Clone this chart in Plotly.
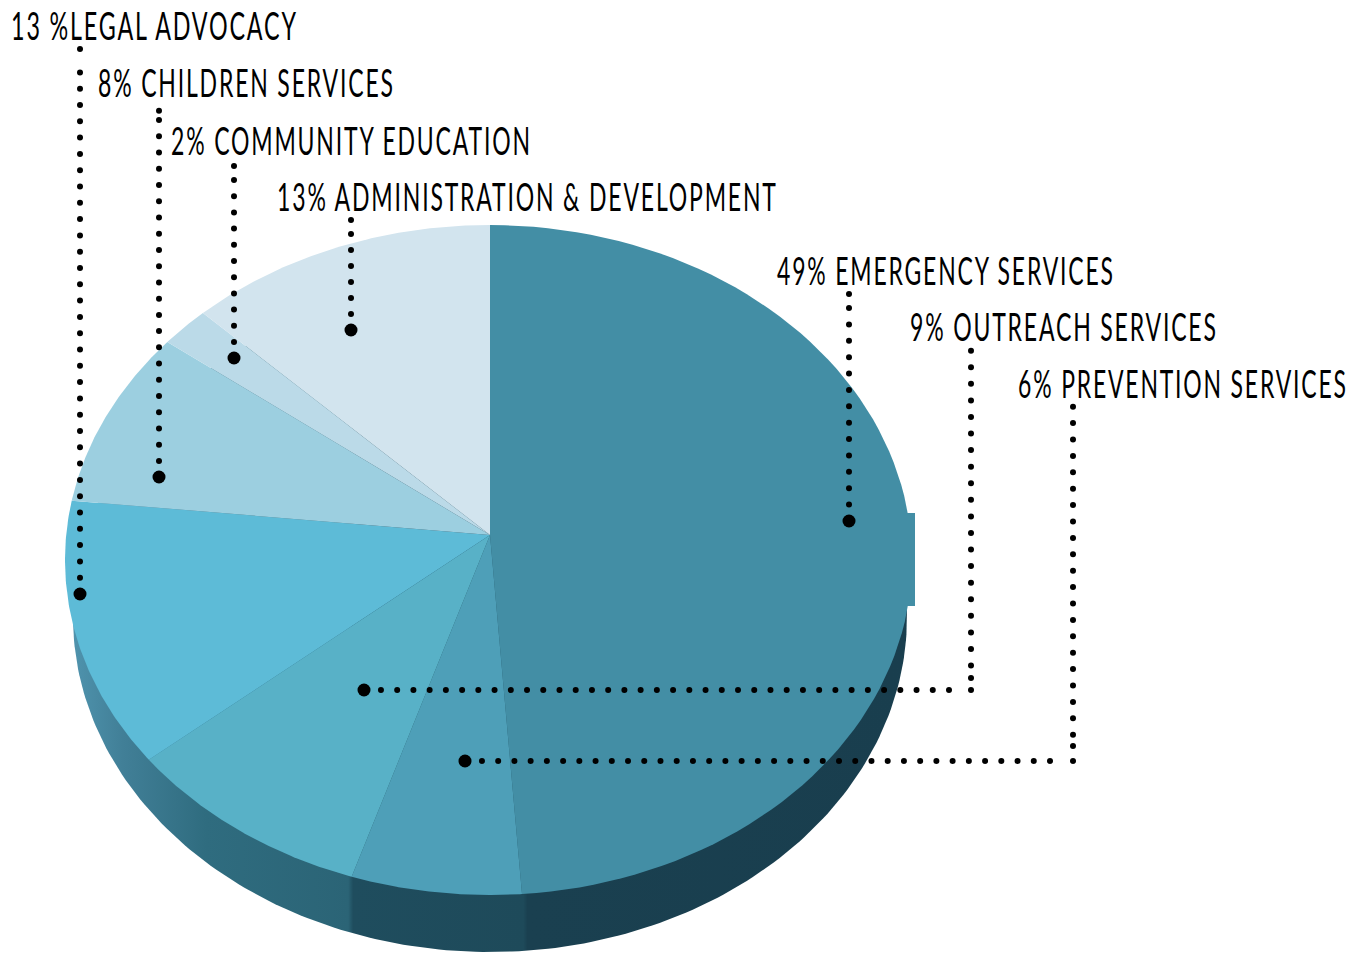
import json
import numpy as np
import plotly.graph_objects as go

# --- data ---
categories = ["EMERGENCY SERVICES", "PREVENTION SERVICES", "OUTREACH SERVICES", "LEGAL ADVOCACY",
              "CHILDREN SERVICES", "COMMUNITY EDUCATION", "ADMINISTRATION & DEVELOPMENT"]
shares = [49, 6, 9, 13, 8, 2, 13]
label_texts = ["49% EMERGENCY SERVICES", "6% PREVENTION SERVICES", "9% OUTREACH SERVICES",
               "13 %LEGAL ADVOCACY", "8% CHILDREN SERVICES", "2% COMMUNITY EDUCATION",
               "13% ADMINISTRATION & DEVELOPMENT"]
slice_colors = ["#438EA5", "#4E9FB8", "#58B1C7", "#5DBBD7", "#9CCFE0", "#BBDAE8", "#D2E4EE"]

# --- layout of the drawing (pixel-like axes) ---
W, H = 1364, 954
APEX = (490, 535)
TOP = dict(cx=490, cy=560, rl=425, rr=422, ry=335)
BOT = dict(cx=490, cy=617, rl=417, rr=417, ry=335)
FONT = "Lato"
FONT_SIZE = 38

label_left = [777, 1018, 910, 11, 98, 171, 277]
label_right = [1113, 1346, 1216, 296, 393, 530, 776]
label_y = [270, 383, 326, 25, 82, 140, 196]
boundary_lean = [0, -0.75, 1, 3, 3, 4.6, 4.3, 0]  # hand-drawn lean of slice edges, degrees

leaders = [
    dict(x=849, top=294, run=(308, 504.6), step=16.38, y=521),
    dict(x=1073, top=None, run=(406.7, 734.7), step=16.4, extra=746, y=761, hrun=(1050, 482), xe=465),
    dict(x=971, top=None, run=(350.7, 665.5), step=16.57, extra=678, y=690, hrun=(949, 381), xe=364),
    dict(x=80, top=49, run=(72.4, 577.8), step=16.3, y=594),
    dict(x=159, top=110.7, run=(120, 461), step=16.24, y=477),
    dict(x=234, top=166, run=(180, 342), step=16.2, y=358),
    dict(x=351, top=220, run=(234, 314), step=16.0, y=330),
]


def rim(t, e):
    """Point on the pie rim; t in radians clockwise from 12 o'clock."""
    s, c = np.sin(t), np.cos(t)
    rx = np.where(s >= 0, e["rr"], e["rl"])
    return e["cx"] + rx * s, e["cy"] - e["ry"] * c


fig = go.Figure()

# side wall
tt = np.linspace(0, 2 * np.pi, 361)
bx, by = rim(tt, BOT)
fig.add_trace(go.Scatter(
    x=bx, y=by, mode="lines", line=dict(width=0), fill="toself", hoverinfo="skip", showlegend=False,
    fillgradient=dict(type="horizontal", colorscale=[
        [0.00, "#4F93AD"], [0.06, "#417F97"], [0.16, "#2F6C7F"], [0.33, "#2B6476"],
        [0.336, "#1F4D5E"], [0.54, "#1E4A5A"], [0.545, "#1A4050"], [1.00, "#193E4E"]])))

# top slices
cum = np.concatenate([[0], np.cumsum(shares)]) / sum(shares)
for i, name in enumerate(categories):
    c = np.linspace(cum[i], cum[i + 1], 90)
    px, py = rim(2 * np.pi * c + np.radians(np.interp(c, cum, boundary_lean)), TOP)
    fig.add_trace(go.Scatter(
        x=np.concatenate([[APEX[0]], px, [APEX[0]]]),
        y=np.concatenate([[APEX[1]], py, [APEX[1]]]),
        mode="lines", line=dict(width=0), fill="toself", fillcolor=slice_colors[i],
        name=name, text=label_texts[i], hoverinfo="text", showlegend=False))

# flat bump on the right rim of the large slice
fig.add_trace(go.Scatter(x=[900, 915, 915, 900, 900], y=[513, 513, 606, 606, 513], mode="lines",
                         line=dict(width=0), fill="toself", fillcolor=slice_colors[0],
                         hoverinfo="skip", showlegend=False))

# leader dots
for L, name in zip(leaders, categories):
    ys = list(np.arange(L["run"][0], L["run"][1] + 0.5, L["step"]))
    if L["top"] is not None:
        ys = [L["top"]] + ys
    if "extra" in L:
        ys.append(L["extra"])
    xs = [L["x"]] * len(ys)
    if "xe" in L:
        hr = list(np.arange(L["hrun"][0], L["hrun"][1] - 0.5, -16.23))
        xs += [L["x"]] + hr
        ys += [L["y"]] * (1 + len(hr))
    fig.add_trace(go.Scatter(x=xs, y=ys, mode="markers", marker=dict(color="black", size=6),
                             hoverinfo="skip", showlegend=False))
    fig.add_trace(go.Scatter(x=[L.get("xe", L["x"])], y=[L["y"]], mode="markers",
                             marker=dict(color="black", size=13), hoverinfo="skip", showlegend=False))

for txt, x, y in zip(label_texts, label_left, label_y):
    fig.add_annotation(x=x, y=y, text=txt, showarrow=False, xanchor="left", yanchor="middle",
                       font=dict(family=FONT, size=FONT_SIZE, color="black"))

fig.update_layout(
    width=W, height=H, margin=dict(l=0, r=0, t=0, b=0),
    paper_bgcolor="white", plot_bgcolor="white", showlegend=False,
    xaxis=dict(range=[0, W], visible=False, fixedrange=True),
    yaxis=dict(range=[H, 0], visible=False, fixedrange=True),
)

# No condensed family is installed: squeeze the real text glyphs to the reference's widths.
squeeze = """
document.body.style.margin='0';document.documentElement.style.overflow='hidden';
(function(){
 var L=%s,R=%s,gd=document.getElementById('{plot_id}');
 function fit(){
  gd.querySelectorAll('.annotation-text').forEach(function(t,i){
   t.removeAttribute('transform');
   t.style.letterSpacing='3px';
   var c=t.getBoundingClientRect(),b=t.getBBox();
   var k=(R[i]-L[i])/(c.width-3);
   var tx=L[i]-c.left-b.x*(k-1);
   t.setAttribute('transform','translate('+tx+' 0) scale('+k+' 1)');
   var g=t.parentNode;
   while(g&&!(g.classList&&g.classList.contains('annotation'))){g=g.parentNode;}
   if(g){g.querySelectorAll('rect').forEach(function(r){r.setAttribute('width',R[i]-L[i]);});}
  });
 }
 fit();gd.on('plotly_afterplot',fit);
})();
""" % (json.dumps(label_left), json.dumps(label_right))
fig.write_html("out.html", config={"displayModeBar": False}, post_script=squeeze)
